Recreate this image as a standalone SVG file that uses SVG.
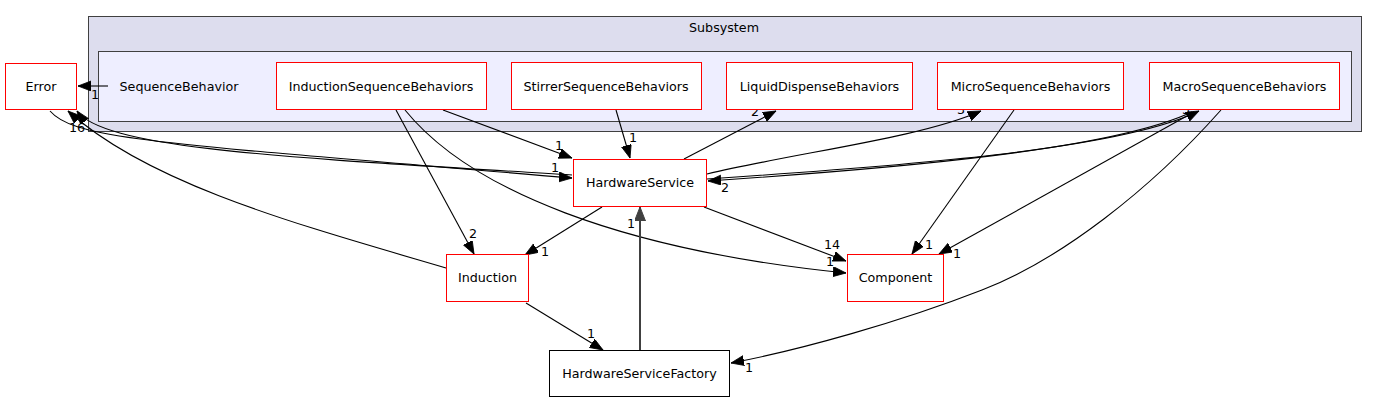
<svg xmlns="http://www.w3.org/2000/svg" width="1377" height="404" viewBox="0 0 1377 404">
<defs>
<marker id="ah" markerUnits="userSpaceOnUse" markerWidth="15" markerHeight="11" refX="13" refY="5" orient="auto" viewBox="0 0 15 11">
<path d="M0,0 L13,5 L0,10 Z" fill="#000" stroke="#000" stroke-width="0.8"/>
</marker>
<marker id="ahg" markerUnits="userSpaceOnUse" markerWidth="16" markerHeight="12" refX="14" refY="5.5" orient="auto" viewBox="0 0 16 12">
<path d="M0,0 L14,5.5 L0,11 Z" fill="#404040" stroke="#404040"/>
</marker>
</defs>
<style>
text{font-family:"DejaVu Sans",sans-serif;font-size:12.7px;fill:#000;}
.n rect{fill:#fff;stroke:#ff0000;stroke-width:1;}
.nb rect{fill:#fff;stroke:#000;stroke-width:1;}
.e{fill:none;stroke:#000;stroke-width:1.1;marker-end:url(#ah);}
.eg{fill:none;stroke:#404040;stroke-width:2;marker-end:url(#ahg);}
.c{text-anchor:middle;}
.l{text-anchor:middle;font-size:12.7px;}
</style>
<rect width="1377" height="404" fill="#fff"/>
<g id="cluster_subsystem">
<rect x="88.5" y="16.5" width="1273" height="115" fill="#ddddee" stroke="#404040"/>
<text x="724" y="32" class="c">Subsystem</text>
</g>
<g id="cluster_sequencebehavior">
<rect x="98.5" y="51.5" width="1253" height="70" fill="#eeeeff" stroke="#404040"/>
<text x="179" y="91" class="c">SequenceBehavior</text>
</g>
<g id="connectors">
<path class="e" d="M108,86 L78,86"/>
<text class="l" x="95" y="99">1</text>
<path class="e" d="M446,268 C300,225 150,185 68,111"/>
<path class="e" d="M50,111 C75,140 160,143 572,178"/>
<path class="e" d="M572,175 C300,158 105,150 77,111"/>
<text class="l" x="73" y="132">1</text>
<text class="l" x="81" y="132">6</text>
<text class="l" x="555" y="172">1</text>
<path class="e" d="M443,110 L572,158"/>
<text class="l" x="559" y="150">1</text>
<path class="e" d="M396,110 L474,254"/>
<text class="l" x="473" y="238">2</text>
<path class="e" d="M405,110 C470,190 620,250 846,273"/>
<text class="l" x="830" y="266">1</text>
<path class="e" d="M616,110 L630,158"/>
<text class="l" x="633" y="142">1</text>
<path class="e" d="M684,159 L776,111"/>
<text class="l" x="755" y="116">2</text>
<path class="e" d="M707,174 C800,152 920,138 981,111"/>
<text class="l" x="961" y="114">3</text>
<path class="e" d="M707,179 C900,166 1120,150 1199,111"/>
<text class="l" x="1186" y="114">3</text>
<path class="e" d="M1192,112 C1110,150 900,168 708,181"/>
<text class="l" x="725" y="192">2</text>
<path class="e" d="M1014,110 L912,254"/>
<text class="l" x="929" y="249">1</text>
<path class="e" d="M1194,112 L939,254"/>
<text class="l" x="957" y="258">1</text>
<path class="e" d="M1221,110 C1150,190 1060,260 982,290 C900,322 800,350 731,363"/>
<text class="l" x="749" y="372">1</text>
<path class="e" d="M704,207 L846,261"/>
<text class="l" x="832" y="249">14</text>
<path class="e" d="M602,207 L525,255"/>
<text class="l" x="545" y="256">1</text>
<path class="eg" d="M640,350 L640,207"/>
<text class="l" x="631" y="228">1</text>
<path class="e" d="M526,303 L603,350"/>
<text class="l" x="591" y="338">1</text>
</g>
<g id="node_error" class="n"><rect x="5.5" y="63.5" width="71" height="46"/><text x="41" y="91" class="c">Error</text></g>
<g id="node_inductionseq" class="n"><rect x="276.5" y="62.5" width="210" height="47"/><text x="381" y="91" class="c">InductionSequenceBehaviors</text></g>
<g id="node_stirrerseq" class="n"><rect x="511.5" y="62.5" width="190" height="47"/><text x="606" y="91" class="c">StirrerSequenceBehaviors</text></g>
<g id="node_liquid" class="n"><rect x="726.5" y="62.5" width="186" height="47"/><text x="819.5" y="91" class="c">LiquidDispenseBehaviors</text></g>
<g id="node_micro" class="n"><rect x="937.5" y="62.5" width="186" height="47"/><text x="1030.5" y="91" class="c">MicroSequenceBehaviors</text></g>
<g id="node_macro" class="n"><rect x="1149.5" y="62.5" width="190" height="47"/><text x="1244.5" y="91" class="c">MacroSequenceBehaviors</text></g>
<g id="node_hardwareservice" class="n"><rect x="573.5" y="159.5" width="133" height="47"/><text x="640" y="187" class="c">HardwareService</text></g>
<g id="node_induction" class="n"><rect x="446.5" y="254.5" width="82" height="47"/><text x="487.5" y="282" class="c">Induction</text></g>
<g id="node_component" class="n"><rect x="847.5" y="254.5" width="96" height="47"/><text x="895.5" y="282" class="c">Component</text></g>
<g id="node_hwsf" class="nb"><rect x="549.5" y="350.5" width="180" height="46"/><text x="639.5" y="378" class="c">HardwareServiceFactory</text></g>
</svg>
